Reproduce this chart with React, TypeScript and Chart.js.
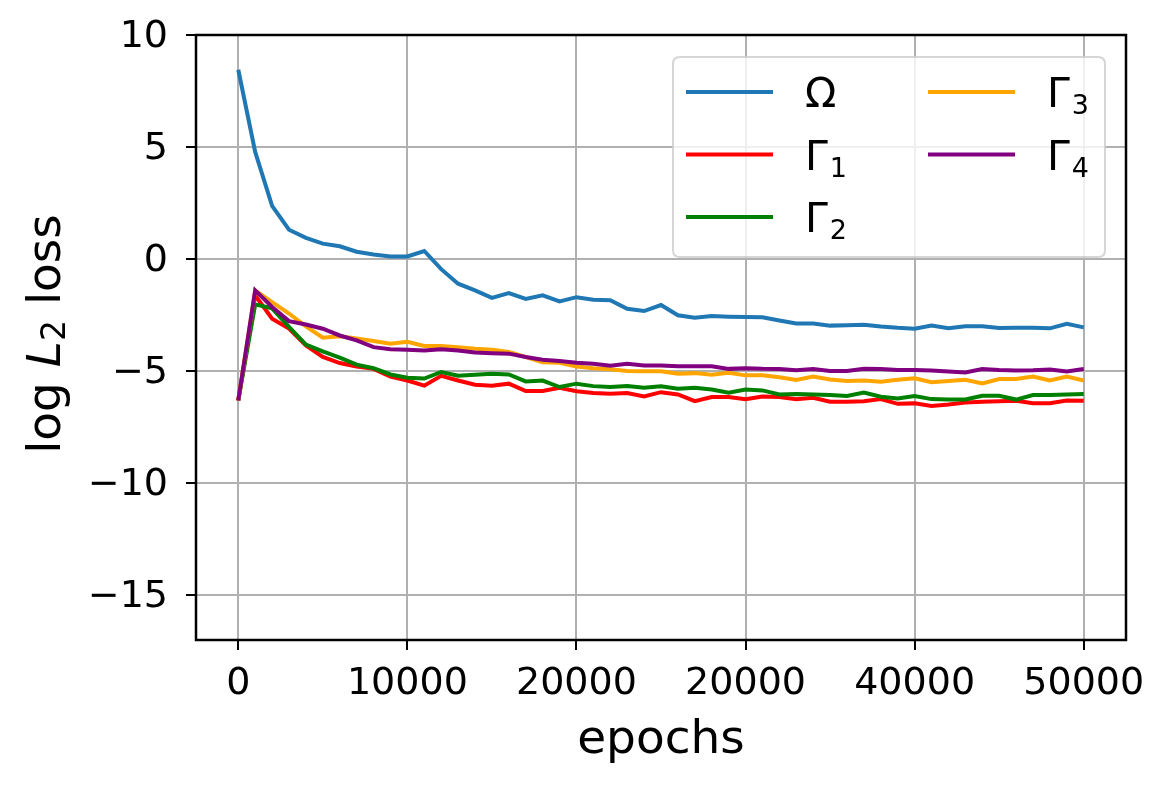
import React, { useEffect, useRef } from 'react';
import { Chart, registerables } from 'chart.js';

Chart.register(...registerables);

// ---------------- data ----------------
const EPOCHS = [
  0, 1000, 2000, 3000, 4000, 5000, 6000, 7000, 8000, 9000,
  10000, 11000, 12000, 13000, 14000, 15000, 16000, 17000, 18000, 19000,
  20000, 21000, 22000, 23000, 24000, 25000, 26000, 27000, 28000, 29000,
  30000, 31000, 32000, 33000, 34000, 35000, 36000, 37000, 38000, 39000,
  40000, 41000, 42000, 43000, 44000, 45000, 46000, 47000, 48000, 49000,
  50000,
];

const OMEGA = [
  8.45, 4.78, 2.37, 1.31, 0.95, 0.69, 0.57, 0.33, 0.2, 0.12,
  0.12, 0.36, -0.45, -1.1, -1.4, -1.73, -1.52, -1.78, -1.62, -1.89,
  -1.7, -1.81, -1.84, -2.22, -2.32, -2.05, -2.51, -2.62, -2.54, -2.57,
  -2.59, -2.6, -2.74, -2.87, -2.88, -2.97, -2.95, -2.93, -3.01, -3.07,
  -3.11, -2.97, -3.09, -3.0, -3.0, -3.08, -3.06, -3.07, -3.09, -2.89,
  -3.05,
];

const GAMMA1 = [
  -6.31, -1.62, -2.66, -3.1, -3.85, -4.37, -4.64, -4.79, -4.9, -5.24,
  -5.42, -5.65, -5.21, -5.42, -5.61, -5.65, -5.56, -5.89, -5.89, -5.74,
  -5.9, -5.98, -6.01, -5.98, -6.13, -5.94, -6.04, -6.34, -6.16, -6.16,
  -6.26, -6.13, -6.16, -6.26, -6.19, -6.37, -6.37, -6.34, -6.25, -6.46,
  -6.44, -6.56, -6.49, -6.4, -6.37, -6.34, -6.32, -6.43, -6.43, -6.31,
  -6.32,
];

const GAMMA2 = [
  -6.31, -2.02, -2.2, -3.03, -3.82, -4.12, -4.4, -4.71, -4.87, -5.15,
  -5.3, -5.33, -5.04, -5.21, -5.16, -5.12, -5.15, -5.46, -5.42, -5.71,
  -5.56, -5.67, -5.71, -5.67, -5.74, -5.68, -5.79, -5.74, -5.82, -5.96,
  -5.82, -5.86, -6.04, -6.02, -6.04, -6.07, -6.11, -5.96, -6.14, -6.22,
  -6.11, -6.25, -6.27, -6.27, -6.1, -6.1, -6.27, -6.07, -6.07, -6.04,
  -6.02,
];

const GAMMA3 = [
  -6.31, -1.4, -1.92, -2.43, -3.0, -3.51, -3.45, -3.54, -3.66, -3.78,
  -3.69, -3.88, -3.88, -3.93, -4.0, -4.05, -4.15, -4.37, -4.6, -4.63,
  -4.79, -4.87, -4.92, -5.0, -5.01, -5.01, -5.12, -5.09, -5.16, -5.07,
  -5.19, -5.19, -5.27, -5.4, -5.24, -5.37, -5.44, -5.42, -5.47, -5.39,
  -5.32, -5.5, -5.44, -5.39, -5.55, -5.35, -5.35, -5.24, -5.42, -5.24,
  -5.42,
];

const GAMMA4 = [
  -6.31, -1.4, -2.14, -2.77, -2.92, -3.11, -3.41, -3.63, -3.93, -4.02,
  -4.05, -4.08, -4.03, -4.08, -4.17, -4.2, -4.22, -4.37, -4.49, -4.55,
  -4.63, -4.67, -4.76, -4.67, -4.75, -4.75, -4.78, -4.78, -4.78, -4.9,
  -4.87, -4.9, -4.91, -4.96, -4.91, -4.99, -4.99, -4.9, -4.91, -4.95,
  -4.95, -4.97, -5.02, -5.06, -4.91, -4.95, -4.97, -4.96, -4.93, -5.02,
  -4.91,
];

const SERIES = [OMEGA, GAMMA1, GAMMA2, GAMMA3, GAMMA4];
const SERIES_LABELS = ['Ω', 'Γ_1', 'Γ_2', 'Γ_3', 'Γ_4'];
const SERIES_COLORS = ['#1f77b4', '#ff0000', '#008000', '#ffa500', '#800080'];

const X_TICK_VALUES = [0, 10000, 20000, 30000, 40000, 50000];
const X_TICK_LABELS = ['0', '10000', '20000', '20000', '40000', '50000'];
const Y_TICK_VALUES = [-15, -10, -5, 0, 5, 10];
const Y_TICK_LABELS = ['\u221215', '\u221210', '\u22125', '0', '5', '10'];

const X_TITLE = 'epochs';
const Y_TITLE_PARTS = [
  { text: 'log ', kind: 'normal' },
  { text: 'L', kind: 'italic' },
  { text: '2', kind: 'sub' },
  { text: ' loss', kind: 'normal' },
];

// ---------------- styles ----------------
const FONT = '"DejaVu Sans", "Noto Sans", sans-serif';
const TICK_SIZE = 38;
const TITLE_SIZE = 47;
const LEGEND_SIZE = 41;
const LEGEND_SUB_SIZE = 27;

const overlayPlugin = {
  id: 'mplOverlay',
  afterDatasetsDraw(chart: any) {
    const { ctx, chartArea } = chart;
    // spines
    ctx.save();
    ctx.strokeStyle = '#000';
    ctx.lineWidth = 2.5;
    ctx.strokeRect(chartArea.left, chartArea.top, chartArea.right - chartArea.left, chartArea.bottom - chartArea.top);
    ctx.restore();
  },
  afterDraw(chart: any) {
    const { ctx } = chart;

    // ---- y axis title with italic L and subscript 2 ----
    ctx.save();
    ctx.fillStyle = '#000';
    ctx.textBaseline = 'alphabetic';
    const fontFor = (kind: string) =>
      kind === 'italic'
        ? `italic ${TITLE_SIZE}px ${FONT}`
        : kind === 'sub'
        ? `${Math.round(TITLE_SIZE * 0.7)}px ${FONT}`
        : `${TITLE_SIZE}px ${FONT}`;
    let total = 0;
    const widths = Y_TITLE_PARTS.map((p) => {
      ctx.font = fontFor(p.kind);
      const w = ctx.measureText(p.text).width;
      total += w;
      return w;
    });
    ctx.translate(60, 334);
    ctx.rotate(-Math.PI / 2);
    let cx = -total / 2;
    Y_TITLE_PARTS.forEach((p, i) => {
      ctx.font = fontFor(p.kind);
      ctx.fillText(p.text, cx, p.kind === 'sub' ? 5 : 0);
      cx += widths[i];
    });
    ctx.restore();

    // ---- legend ----
    ctx.save();
    const bx0 = 673, by0 = 57, bx1 = 1105, by1 = 257, r = 7;
    ctx.beginPath();
    ctx.moveTo(bx0 + r, by0);
    ctx.lineTo(bx1 - r, by0);
    ctx.quadraticCurveTo(bx1, by0, bx1, by0 + r);
    ctx.lineTo(bx1, by1 - r);
    ctx.quadraticCurveTo(bx1, by1, bx1 - r, by1);
    ctx.lineTo(bx0 + r, by1);
    ctx.quadraticCurveTo(bx0, by1, bx0, by1 - r);
    ctx.lineTo(bx0, by0 + r);
    ctx.quadraticCurveTo(bx0, by0, bx0 + r, by0);
    ctx.closePath();
    ctx.fillStyle = 'rgba(255,255,255,0.8)';
    ctx.fill();
    ctx.strokeStyle = 'rgba(204,204,204,0.8)';
    ctx.lineWidth = 2;
    ctx.stroke();

    const lineX = [686, 928];
    const textX = [805, 1047];
    const rowY0 = 92;
    const rowStep = 62.5;
    chart.data.datasets.forEach((ds: any, i: number) => {
      const col = i < 3 ? 0 : 1;
      const row = i < 3 ? i : i - 3;
      const y = rowY0 + row * rowStep;
      ctx.strokeStyle = ds.borderColor;
      ctx.lineWidth = 4;
      ctx.beginPath();
      ctx.moveTo(lineX[col], y);
      ctx.lineTo(lineX[col] + 87, y);
      ctx.stroke();
      const [base, sub] = String(ds.label).split('_');
      ctx.fillStyle = '#000';
      ctx.textBaseline = 'alphabetic';
      ctx.font = `${LEGEND_SIZE}px ${FONT}`;
      ctx.fillText(base, textX[col], y + 15);
      if (sub) {
        const w = ctx.measureText(base).width;
        ctx.font = `${LEGEND_SUB_SIZE}px ${FONT}`;
        ctx.fillText(sub, textX[col] + w + 2, y + 22);
      }
    });
    ctx.restore();
  },
};

export default function App() {
  const canvasRef = useRef<HTMLCanvasElement | null>(null);

  useEffect(() => {
    const canvas = canvasRef.current;
    if (!canvas) return;
    const datasets = SERIES.map((vals, i) => ({
      label: SERIES_LABELS[i],
      data: EPOCHS.map((x, j) => ({ x, y: vals[j] })),
      borderColor: SERIES_COLORS[i],
      backgroundColor: SERIES_COLORS[i],
      borderWidth: 4,
      pointRadius: 0,
      tension: 0,
      fill: false,
      order: SERIES.length - 1 - i,
    }));

    const chart = new Chart(canvas, {
      type: 'line',
      data: { datasets },
      plugins: [overlayPlugin],
      options: {
        responsive: false,
        animation: false,
        devicePixelRatio: 1,
        layout: { padding: { top: 35, right: 44, left: 0, bottom: 0 } },
        plugins: {
          legend: { display: false },
          tooltip: { enabled: false },
        },
        scales: {
          x: {
            type: 'linear',
            min: -2500,
            max: 52500,
            afterBuildTicks: (scale: any) => {
              scale.ticks = X_TICK_VALUES.map((v) => ({ value: v }));
            },
            afterFit: (scale: any) => {
              scale.height = 146;
              scale.paddingLeft = 0;
              scale.paddingRight = 0;
            },
            border: { display: false },
            grid: {
              color: '#b0b0b0',
              lineWidth: 2,
              tickColor: '#000',
              tickWidth: 2,
              tickLength: 10,
            },
            ticks: {
              autoSkip: false,
              maxRotation: 0,
              padding: 11,
              color: '#000',
              font: { family: FONT, size: TICK_SIZE },
              callback: (_v: any, i: number) => X_TICK_LABELS[i],
            },
            title: {
              display: true,
              text: X_TITLE,
              color: '#000',
              font: { family: FONT, size: TITLE_SIZE },
              padding: { top: 0, bottom: 17 },
            },
          },
          y: {
            type: 'linear',
            min: -17,
            max: 10,
            afterBuildTicks: (scale: any) => {
              scale.ticks = Y_TICK_VALUES.map((v) => ({ value: v }));
            },
            afterFit: (scale: any) => {
              scale.width = 196;
              scale.paddingTop = 0;
              scale.paddingBottom = 0;
            },
            border: { display: false },
            grid: {
              color: '#b0b0b0',
              lineWidth: 2,
              tickColor: '#000',
              tickWidth: 2,
              tickLength: 10,
            },
            ticks: {
              autoSkip: false,
              padding: 18,
              labelOffset: 2,
              color: '#000',
              font: { family: FONT, size: TICK_SIZE },
              callback: (_v: any, i: number) => Y_TICK_LABELS[i],
            },
          },
        },
      },
    } as any);

    return () => {
      chart.destroy();
    };
  }, []);

  return (
    <div
      style={{
        position: 'fixed',
        left: 0,
        top: 0,
        width: 1170,
        height: 786,
        background: '#fff',
      }}
    >
      <canvas ref={canvasRef} width={1170} height={786} style={{ display: 'block' }} />
    </div>
  );
}
